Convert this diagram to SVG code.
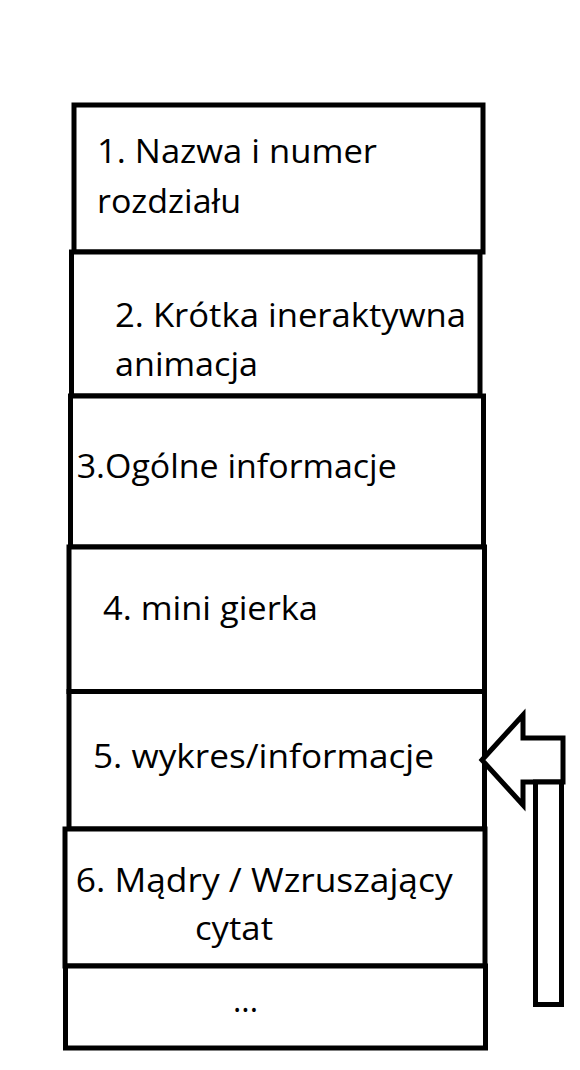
<svg xmlns="http://www.w3.org/2000/svg" width="580" height="1070" viewBox="0 0 580 1070">
<style>
.box{fill:#ffffff;stroke:#000000;stroke-width:5}
.t{font-family:"Open Sans","Noto Sans",sans-serif;font-size:33px;fill:#000000}
.arrow{fill:#ffffff;stroke:#000000;stroke-width:5;stroke-linejoin:miter}
</style>
<rect width="580" height="1070" fill="#ffffff"/>
<g id="node1">
<rect class="box" x="74" y="105" width="409" height="147"/>
<text class="t" x="97" y="163" textLength="280" lengthAdjust="spacingAndGlyphs">1. Nazwa i numer</text>
<text class="t" x="97" y="212.7" textLength="144" lengthAdjust="spacingAndGlyphs">rozdziału</text>
</g>
<g id="node2">
<rect class="box" x="71.5" y="252" width="408.5" height="144"/>
<text class="t" x="115" y="327" textLength="351" lengthAdjust="spacingAndGlyphs">2. Krótka ineraktywna</text>
<text class="t" x="115" y="376" textLength="143" lengthAdjust="spacingAndGlyphs">animacja</text>
</g>
<g id="node3">
<rect class="box" x="70.5" y="396" width="413" height="151"/>
<text class="t" x="76.7" y="478" textLength="320" lengthAdjust="spacingAndGlyphs">3.Ogólne informacje</text>
</g>
<g id="node4">
<rect class="box" x="69" y="547" width="415.5" height="144.5"/>
<text class="t" x="103" y="620" textLength="215" lengthAdjust="spacingAndGlyphs">4. mini gierka</text>
</g>
<g id="node5">
<rect class="box" x="69" y="691.5" width="415.5" height="137.5"/>
<text class="t" x="93" y="768" textLength="341" lengthAdjust="spacingAndGlyphs">5. wykres/informacje</text>
</g>
<g id="node6">
<rect class="box" x="65" y="829" width="420" height="137"/>
<text class="t" x="75.7" y="891.7" textLength="377" lengthAdjust="spacingAndGlyphs">6. Mądry / Wzruszający</text>
<text class="t" x="195" y="940" textLength="78" lengthAdjust="spacingAndGlyphs">cytat</text>
</g>
<g id="node7">
<rect class="box" x="65.5" y="966" width="420" height="82"/>
<text class="t" x="233" y="1012" textLength="25" lengthAdjust="spacingAndGlyphs">...</text>
</g>
<g id="connectors">
<polygon class="arrow" points="482,760 523,715 523,738 563,738 563,782 523,782 523,805"/>
<rect class="arrow" x="535.5" y="782" width="26" height="222.5"/>
</g>
</svg>
